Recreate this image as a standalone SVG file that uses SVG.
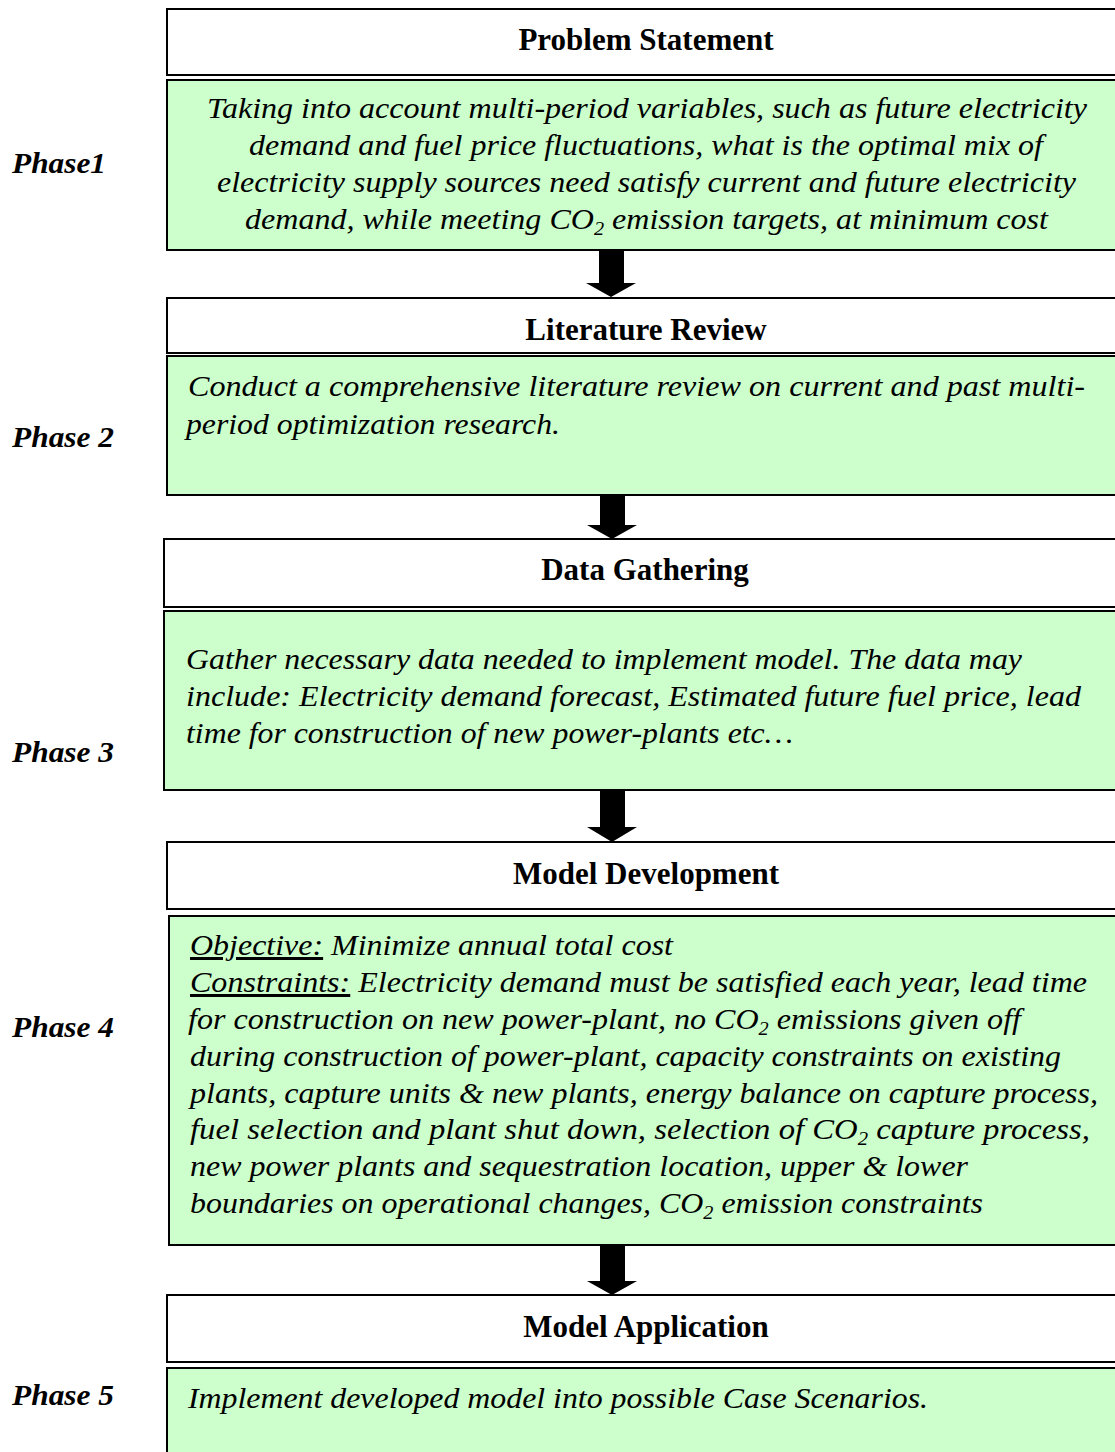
<svg xmlns="http://www.w3.org/2000/svg" width="1115" height="1452" viewBox="0 0 1115 1452" font-family="Liberation Serif, Times New Roman, serif">
<style>
.hdr{fill:#ffffff;stroke:#000;stroke-width:2}
.grn{fill:#ccffcc;stroke:#000;stroke-width:2}
.ht{font-weight:bold;font-size:31px;fill:#000;text-anchor:middle}
.ph{font-weight:bold;font-style:italic;font-size:30px;fill:#000}
.bt{font-style:italic;font-size:30px;fill:#000}
.sub{font-size:19px}
.arr{fill:#000}
</style>
<rect width="1115" height="1452" fill="#fff"/>
<g id="phase-labels">
<text class="ph" x="12" y="173" textLength="94" lengthAdjust="spacingAndGlyphs">Phase1</text>
<text class="ph" x="12" y="447" textLength="102" lengthAdjust="spacingAndGlyphs">Phase 2</text>
<text class="ph" x="12" y="762" textLength="102" lengthAdjust="spacingAndGlyphs">Phase 3</text>
<text class="ph" x="12" y="1037" textLength="102" lengthAdjust="spacingAndGlyphs">Phase 4</text>
<text class="ph" x="12" y="1405" textLength="102" lengthAdjust="spacingAndGlyphs">Phase 5</text>
</g>
<g id="node-problem-statement">
<rect class="hdr" x="167" y="9" width="960" height="66"/>
<text class="ht" x="646" y="50">Problem Statement</text>
<rect class="grn" x="167" y="80" width="960" height="170"/>
<text class="bt" x="207" y="118" textLength="880" lengthAdjust="spacingAndGlyphs">Taking into account multi-period variables, such as future electricity</text>
<text class="bt" x="249" y="155" textLength="794" lengthAdjust="spacingAndGlyphs">demand and fuel price fluctuations, what is the optimal mix of</text>
<text class="bt" x="217" y="192" textLength="859" lengthAdjust="spacingAndGlyphs">electricity supply sources need satisfy current and future electricity</text>
<text class="bt" x="245" y="229" textLength="803" lengthAdjust="spacingAndGlyphs">demand, while meeting CO<tspan class="sub" dy="6">2</tspan><tspan dy="-6"> emission targets, at minimum cost</tspan></text>
</g>
<g id="node-literature-review">
<rect class="hdr" x="167" y="298" width="960" height="55"/>
<text class="ht" x="646" y="340">Literature Review</text>
<rect class="grn" x="167" y="356" width="960" height="139"/>
<text class="bt" x="188" y="396" textLength="897" lengthAdjust="spacingAndGlyphs">Conduct a comprehensive literature review on current and past multi-</text>
<text class="bt" x="186" y="434" textLength="374" lengthAdjust="spacingAndGlyphs">period optimization research.</text>
</g>
<g id="node-data-gathering">
<rect class="hdr" x="164" y="539" width="960" height="68"/>
<text class="ht" x="645" y="580">Data Gathering</text>
<rect class="grn" x="164" y="611" width="960" height="179"/>
<text class="bt" x="186" y="669" textLength="836" lengthAdjust="spacingAndGlyphs">Gather necessary data needed to implement model. The data may</text>
<text class="bt" x="186" y="706" textLength="895" lengthAdjust="spacingAndGlyphs">include: Electricity demand forecast, Estimated future fuel price, lead</text>
<text class="bt" x="186" y="743" textLength="607" lengthAdjust="spacingAndGlyphs">time for construction of new power-plants etc…</text>
</g>
<g id="node-model-development">
<rect class="hdr" x="167" y="842" width="960" height="67"/>
<text class="ht" x="646" y="884">Model Development</text>
<rect class="grn" x="169" y="916" width="960" height="329"/>
<text class="bt" x="190" y="955" textLength="483" lengthAdjust="spacingAndGlyphs"><tspan text-decoration="underline">Objective:</tspan> Minimize annual total cost</text>
<text class="bt" x="190" y="992" textLength="897" lengthAdjust="spacingAndGlyphs"><tspan text-decoration="underline">Constraints:</tspan> Electricity demand must be satisfied each year, lead time</text>
<text class="bt" x="188" y="1029" textLength="833" lengthAdjust="spacingAndGlyphs">for construction on new power-plant, no CO<tspan class="sub" dy="6">2</tspan><tspan dy="-6"> emissions given off</tspan></text>
<text class="bt" x="190" y="1066" textLength="871" lengthAdjust="spacingAndGlyphs">during construction of power-plant, capacity constraints on existing</text>
<text class="bt" x="190" y="1103" textLength="908" lengthAdjust="spacingAndGlyphs">plants, capture units &amp; new plants, energy balance on capture process,</text>
<text class="bt" x="190" y="1139" textLength="900" lengthAdjust="spacingAndGlyphs">fuel selection and plant shut down, selection of CO<tspan class="sub" dy="6">2</tspan><tspan dy="-6"> capture process,</tspan></text>
<text class="bt" x="190" y="1176" textLength="778" lengthAdjust="spacingAndGlyphs">new power plants and sequestration location, upper &amp; lower</text>
<text class="bt" x="190" y="1213" textLength="793" lengthAdjust="spacingAndGlyphs">boundaries on operational changes, CO<tspan class="sub" dy="6">2</tspan><tspan dy="-6"> emission constraints</tspan></text>
</g>
<g id="node-model-application">
<rect class="hdr" x="167" y="1295" width="960" height="67"/>
<text class="ht" x="646" y="1337">Model Application</text>
<rect class="grn" x="167" y="1368" width="960" height="100"/>
<text class="bt" x="188" y="1408" textLength="740" lengthAdjust="spacingAndGlyphs">Implement developed model into possible Case Scenarios.</text>
</g>
<g id="connectors">
<polygon class="arr" points="599,251 624,251 624,283 636,283 611,297 586,283 599,283"/>
<polygon class="arr" points="600,496 625,496 625,525 637,525 612,539 587,525 600,525"/>
<polygon class="arr" points="600,791 625,791 625,827 637,827 612,842 587,827 600,827"/>
<polygon class="arr" points="600,1246 625,1246 625,1281 637,1281 612,1295 587,1281 600,1281"/>
</g>
</svg>
